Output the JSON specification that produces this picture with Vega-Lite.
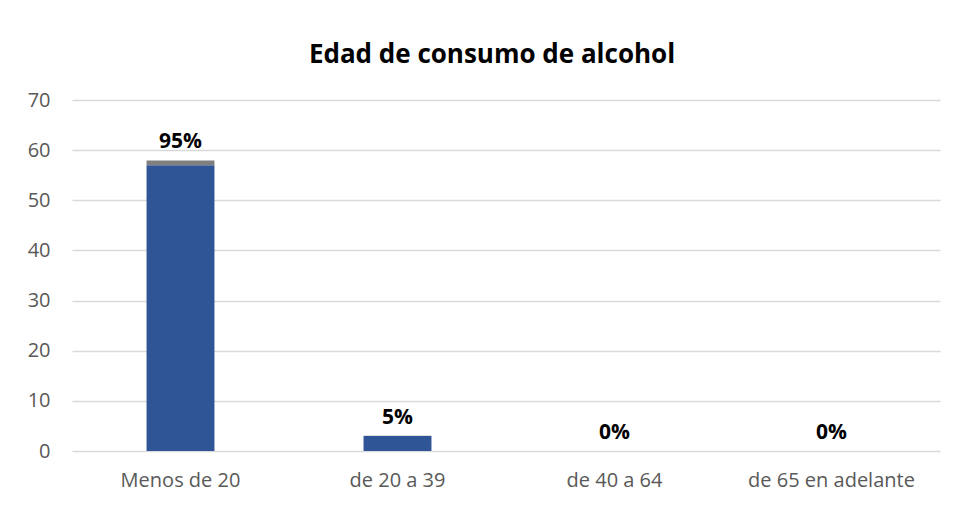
{
  "$schema": "https://vega.github.io/schema/vega-lite/v6.json",
  "autosize": "none",
  "width": 868,
  "height": 351,
  "padding": {"left": 72, "top": 100, "right": 17, "bottom": 57},
  "background": "white",
  "title": {
    "text": "Edad de consumo de alcohol",
    "font": "Open Sans",
    "fontSize": 26,
    "fontWeight": "bold",
    "color": "#000000",
    "anchor": "middle",
    "dx": -14,
    "offset": 22
  },
  "data": {
    "values": [
      {"categoria": "Menos de 20", "frecuencia": 57, "porcentaje": 0.95},
      {"categoria": "de 20 a 39", "frecuencia": 3, "porcentaje": 0.05},
      {"categoria": "de 40 a 64", "frecuencia": 0, "porcentaje": 0},
      {"categoria": "de 65 en adelante", "frecuencia": 0, "porcentaje": 0}
    ]
  },
  "transform": [
    {"fold": ["frecuencia", "porcentaje"], "as": ["serie", "valor"]}
  ],
  "encoding": {
    "x": {
      "field": "categoria",
      "type": "nominal",
      "sort": null,
      "scale": {"paddingInner": 0.687, "paddingOuter": 0.3435},
      "axis": {
        "title": null,
        "labelAngle": 0,
        "ticks": false,
        "domain": false,
        "labelFont": "Open Sans",
        "labelFontSize": 20,
        "labelColor": "#595959",
        "labelPadding": 19
      }
    }
  },
  "layer": [
    {
      "mark": {"type": "bar"},
      "encoding": {
        "y": {
          "field": "valor",
          "type": "quantitative",
          "aggregate": "sum",
          "stack": "zero",
          "scale": {"domain": [0, 70]},
          "axis": {
            "title": null,
            "values": [0, 10, 20, 30, 40, 50, 60, 70],
            "ticks": false,
            "domain": false,
            "gridColor": "#d9d9d9",
            "gridWidth": 1.3,
            "labelFont": "Open Sans",
            "labelFontSize": 20,
            "labelColor": "#595959",
            "labelPadding": 22
          }
        },
        "color": {
          "field": "serie",
          "type": "nominal",
          "scale": {"domain": ["frecuencia", "porcentaje"], "range": ["#2F5597", "#7F7F7F"]},
          "legend": null
        },
        "order": {"field": "serie", "sort": "ascending"}
      }
    },
    {
      "mark": {
        "type": "text",
        "font": "Open Sans",
        "fontSize": 21,
        "fontWeight": "bold",
        "color": "#000000",
        "baseline": "alphabetic",
        "dy": -12
      },
      "encoding": {
        "y": {"field": "valor", "type": "quantitative", "aggregate": "sum"},
        "text": {"field": "porcentaje", "type": "quantitative", "aggregate": "max", "format": ".0%"}
      }
    }
  ],
  "config": {
    "view": {"stroke": null}
  }
}
